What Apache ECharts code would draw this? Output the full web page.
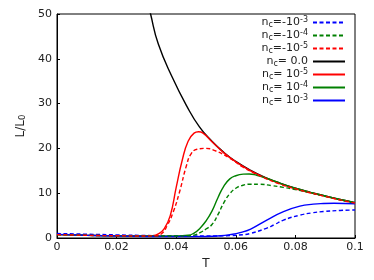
<!DOCTYPE html>
<html>
<head>
<meta charset="utf-8">
<script src="https://cdn.jsdelivr.net/npm/echarts@6/dist/echarts.min.js"></script>
<style>html,body{margin:0;padding:0;background:#fff}#c{width:374px;height:280px}</style>
</head>
<body>
<div id="c"></div>
<script>
// x-axis ticks
const xTicks = [0, 0.02, 0.04, 0.06, 0.08, 0.1];
const yTicks = [0, 10, 20, 30, 40, 50];

// n_c = -1e-3 (blue dashed)
const tBlueD = [0, 0.01, 0.02, 0.03, 0.04, 0.05, 0.058, 0.0625, 0.0648, 0.07, 0.073, 0.076, 0.0815, 0.0855, 0.0894, 0.095, 0.1];
const lBlueD = [1.0, 0.85, 0.7, 0.55, 0.45, 0.45, 0.55, 0.75, 1.0, 2.1, 3.0, 4.0, 5.1, 5.6, 5.9, 6.15, 6.25];
// n_c = -1e-4 (green dashed)
const tGreenD = [0, 0.01, 0.02, 0.03, 0.04, 0.044, 0.046, 0.048, 0.05, 0.052, 0.054, 0.056, 0.058, 0.06, 0.062, 0.065, 0.068, 0.072, 0.076, 0.08, 0.085, 0.09, 0.095, 0.1];
const lGreenD = [0.75, 0.6, 0.5, 0.45, 0.45, 0.5, 0.65, 1.2, 2.0, 3.0, 5.2, 7.9, 9.9, 11.1, 11.7, 12.0, 12.0, 11.7, 11.3, 10.8, 10.1, 9.3, 8.5, 7.8];
// n_c = -1e-5 (red dashed)
const tRedD = [0, 0.01, 0.02, 0.03, 0.033, 0.035, 0.037, 0.039, 0.041, 0.0435, 0.045, 0.047, 0.05, 0.053, 0.058, 0.062, 0.068, 0.075, 0.08, 0.085, 0.09, 0.095, 0.1];
const lRedD = [0.75, 0.6, 0.5, 0.45, 0.5, 0.9, 2.8, 5.8, 10.0, 16.3, 18.8, 19.8, 20.0, 19.5, 17.8, 16.0, 13.9, 12.0, 11.0, 10.1, 9.3, 8.5, 7.8];
// n_c = 0 (black)
const tBlack = [0.03, 0.0314, 0.034, 0.0388, 0.0435, 0.0478, 0.052, 0.056, 0.06, 0.065, 0.07, 0.075, 0.08, 0.085, 0.09, 0.095, 0.1];
const lBlack = [54.0, 50.0, 43.3, 35.7, 29.5, 24.8, 21.6, 19.1, 17.1, 15.1, 13.5, 12.2, 11.1, 10.2, 9.4, 8.6, 7.9];
// n_c = 1e-5 (red solid)
const tRed = [0, 0.01, 0.02, 0.03, 0.032, 0.034, 0.036, 0.038, 0.04, 0.042, 0.044, 0.046, 0.0475, 0.049, 0.052, 0.056, 0.06, 0.065, 0.07, 0.075, 0.08, 0.085, 0.09, 0.095, 0.1];
const lRed = [0.75, 0.6, 0.5, 0.45, 0.5, 0.9, 2.1, 5.0, 11.3, 17.3, 21.6, 23.4, 23.7, 23.4, 21.5, 19.0, 17.0, 15.0, 13.4, 12.1, 11.0, 10.1, 9.3, 8.5, 7.85];
// n_c = 1e-4 (green solid)
const tGreen = [0, 0.01, 0.02, 0.03, 0.04, 0.044, 0.046, 0.048, 0.05, 0.052, 0.054, 0.056, 0.058, 0.06, 0.0625, 0.0645, 0.067, 0.07, 0.075, 0.08, 0.085, 0.09, 0.095, 0.1];
const lGreen = [0.75, 0.6, 0.5, 0.45, 0.45, 0.6, 1.1, 2.2, 3.8, 6.0, 9.0, 11.6, 13.2, 13.9, 14.25, 14.3, 14.0, 13.4, 12.2, 11.1, 10.2, 9.4, 8.6, 7.9];
// n_c = 1e-3 (blue solid)
const tBlue = [0, 0.01, 0.02, 0.03, 0.04, 0.05, 0.055, 0.058, 0.0614, 0.065, 0.0704, 0.076, 0.0815, 0.086, 0.0894, 0.093, 0.1];
const lBlue = [0.8, 0.6, 0.45, 0.35, 0.3, 0.35, 0.5, 0.75, 1.2, 2.0, 4.0, 5.9, 7.1, 7.55, 7.7, 7.75, 7.65];

const names = ['nm3', 'nm4', 'nm5', 'n0', 'np5', 'np4', 'np3'];
const labels = {
  nm3: '{n|n}{s|c}{n|=-10}{p|-3}',
  nm4: '{n|n}{s|c}{n|=-10}{p|-4}',
  nm5: '{n|n}{s|c}{n|=-10}{p|-5}',
  n0: '{n|n}{s|c}{n|= 0.0}',
  np5: '{n|n}{s|c}{n|= 10}{p|-5}',
  np4: '{n|n}{s|c}{n|= 10}{p|-4}',
  np3: '{n|n}{s|c}{n|= 10}{p|-3}'
};
const zip = (t, l) => t.map((v, i) => [v, l[i]]);
const dash = [4, 2.5];
function mk(name, t, l, color, dashed) {
  return {
    name, type: 'line', data: zip(t, l), smooth: 0.5, symbol: 'none',
    lineStyle: { color, width: 1.4, type: dashed ? dash : 'solid' },
    itemStyle: { color }, z: dashed ? 3 : 2, animation: false
  };
}
const chart = echarts.init(document.getElementById('c'), null, { renderer: 'canvas' });
const F = 'DejaVu Sans';
chart.setOption({
  animation: false,
  grid: { left: 57, right: 19, top: 14, bottom: 42, show: true, borderColor: '#000', borderWidth: 1 },
  legend: {
    orient: 'vertical', right: 28, top: 16, padding: 0, align: 'right', itemWidth: 32, itemHeight: 10, itemGap: 0,
    data: names,
    formatter: n => labels[n],
    itemStyle: { opacity: 0, borderWidth: 0 },
    textStyle: {
      fontFamily: F, color: '#222', lineHeight: 13,
      rich: {
        n: { fontFamily: F, fontSize: 11, color: '#222' },
        s: { fontFamily: F, fontSize: 8, color: '#222', verticalAlign: 'bottom', lineHeight: 9 },
        p: { fontFamily: F, fontSize: 8, color: '#222', verticalAlign: 'top', lineHeight: 9 }
      }
    }
  },
  xAxis: {
    type: 'value', min: 0, max: 0.1, interval: 0.02,
    name: 'T', nameLocation: 'middle', nameGap: 15,
    nameTextStyle: { fontFamily: F, fontSize: 12, color: '#222' },
    axisLine: { show: true, lineStyle: { color: '#000', width: 1 } },
    axisTick: { show: true, inside: true, length: 3, lineStyle: { color: '#000' } },
    axisLabel: { fontFamily: F, fontSize: 11, color: '#222', margin: 4, formatter: v => String(+v.toFixed(2)) },
    splitLine: { show: false }
  },
  yAxis: {
    type: 'value', min: 0, max: 50, interval: 10,
    name: 'L/L{sub|0}', nameLocation: 'middle', nameGap: 30,
    nameTextStyle: { fontFamily: F, fontSize: 12, color: '#222',
      rich: { sub: { fontFamily: F, fontSize: 8.5, color: '#222', verticalAlign: 'bottom', lineHeight: 10 } } },
    axisLine: { show: true, lineStyle: { color: '#000', width: 1 } },
    axisTick: { show: true, inside: true, length: 3, lineStyle: { color: '#000' } },
    axisLabel: { fontFamily: F, fontSize: 11, color: '#222', margin: 5 },
    splitLine: { show: false }
  },
  series: [
    mk('nm3', tBlueD, lBlueD, '#0000ff', true),
    mk('nm4', tGreenD, lGreenD, '#008000', true),
    mk('nm5', tRedD, lRedD, '#ff0000', true),
    mk('n0', tBlack, lBlack, '#000000', false),
    mk('np5', tRed, lRed, '#ff0000', false),
    mk('np4', tGreen, lGreen, '#008000', false),
    mk('np3', tBlue, lBlue, '#0000ff', false)
  ]
});
</script>
</body>
</html>
